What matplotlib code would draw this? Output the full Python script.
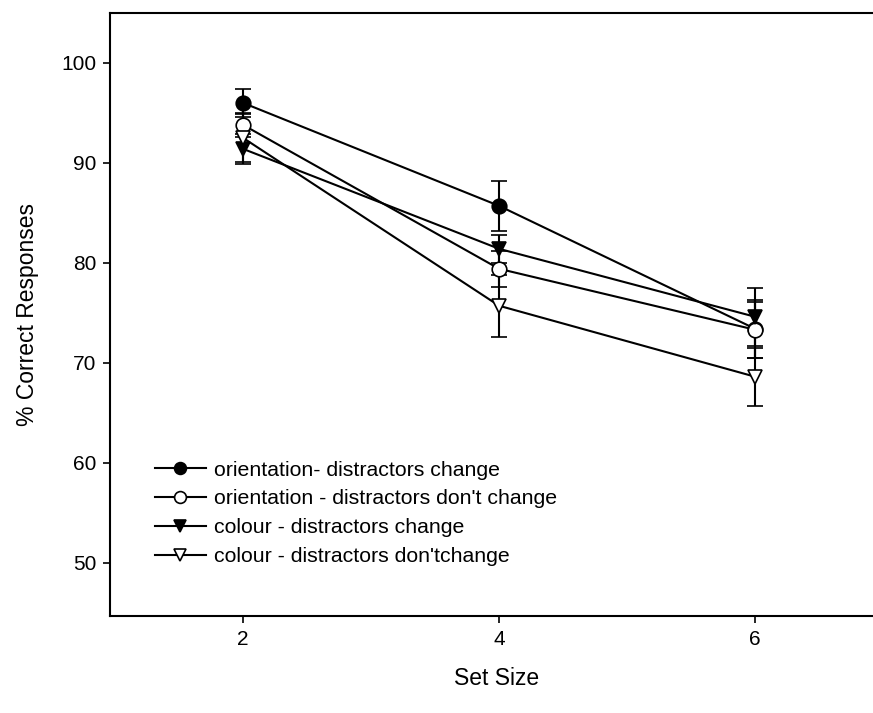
import matplotlib
matplotlib.use("Agg")
import matplotlib.pyplot as plt
from matplotlib.lines import Line2D

plt.rcParams['font.family'] = ['Liberation Sans', 'DejaVu Sans']

set_sizes = [2, 4, 6]
labels = ["orientation- distractors change",
          "orientation - distractors don't change",
          "colour - distractors change",
          "colour - distractors don'tchange"]
orient_change = [96.0, 85.7, 73.4]
orient_change_err = [1.4, 2.5, 2.9]
orient_nochange = [93.8, 79.4, 73.3]
orient_nochange_err = [1.2, 1.8, 2.8]
colour_change = [91.4, 81.4, 74.6]
colour_change_err = [1.5, 1.4, 2.9]
colour_nochange = [92.5, 75.7, 68.6]
colour_nochange_err = [2.4, 3.1, 2.9]

series = [
    (orient_change, orient_change_err, 'o', 'black'),
    (orient_nochange, orient_nochange_err, 'o', 'white'),
    (colour_change, colour_change_err, 'v', 'black'),
    (colour_nochange, colour_nochange_err, 'v', 'white'),
]

W, H = 873, 713
fig = plt.figure(figsize=(W / 100, H / 100), dpi=100)
left, right, top, bottom = 110, 883, 13, 616
ax = fig.add_axes([left / W, (H - bottom) / H, (right - left) / W, (bottom - top) / H])

handles = []
for (vals, errs, m, fc), lab in zip(series, labels):
    ax.errorbar(set_sizes, vals, yerr=errs, color='black', marker=m, markersize=10.5,
                markerfacecolor=fc, markeredgecolor='black', markeredgewidth=1.2,
                linewidth=1.5, elinewidth=1.5, capsize=5.5, capthick=1.5)
    handles.append(Line2D([], [], color='black', marker=m, markersize=8.5,
                          markerfacecolor=fc, markeredgecolor='black',
                          markeredgewidth=1.2, linewidth=1.5, label=lab))

ax.set_xlim(0.96, 7.0)
ax.set_ylim(44.65, 105)
ax.set_xticks([2, 4, 6])
ax.set_yticks([50, 60, 70, 80, 90, 100])
ax.tick_params(direction='out', length=5, width=1.2, labelsize=15, pad=5)
for s in ax.spines.values():
    s.set_linewidth(1.5)

ax.set_xlabel('Set Size', fontsize=16.5, labelpad=13)
ax.set_ylabel('% Correct Responses', fontsize=16.5, labelpad=16)

ax.legend(handles=handles, loc='upper left',
          bbox_to_anchor=(36 / (right - left), (bottom - 452) / (bottom - top)),
          frameon=False, fontsize=15.3, handlelength=2.4, handletextpad=0.4,
          labelspacing=0.47, borderaxespad=0)

fig.savefig('out.png', dpi=100)
